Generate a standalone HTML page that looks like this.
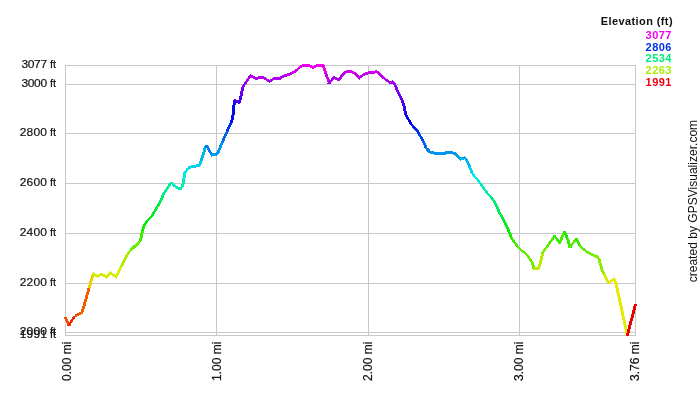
<!DOCTYPE html>
<html><head><meta charset="utf-8"><style>
html,body{margin:0;padding:0;background:#fff;}
svg{display:block;will-change:transform;}
text{font-family:"Liberation Sans",sans-serif;font-size:11px;fill:#111;}
.lab text{stroke:#111;stroke-width:0.2px;}
</style></head><body>
<svg width="700" height="400" viewBox="0 0 700 400">
<rect width="700" height="400" fill="#fff"/>
<g stroke="#c8c8c8" stroke-width="1" shape-rendering="crispEdges">
<line x1="64.5" y1="65.5" x2="635.5" y2="65.5"/>
<line x1="64.5" y1="84.5" x2="635.5" y2="84.5"/>
<line x1="64.5" y1="133.5" x2="635.5" y2="133.5"/>
<line x1="64.5" y1="183.5" x2="635.5" y2="183.5"/>
<line x1="64.5" y1="233.5" x2="635.5" y2="233.5"/>
<line x1="64.5" y1="283.5" x2="635.5" y2="283.5"/>
<line x1="64.5" y1="332.5" x2="635.5" y2="332.5"/>
<line x1="64.5" y1="335.5" x2="635.5" y2="335.5"/>
<line x1="65.5" y1="64.5" x2="65.5" y2="335.5"/>
<line x1="216.5" y1="64.5" x2="216.5" y2="335.5"/>
<line x1="368.5" y1="64.5" x2="368.5" y2="335.5"/>
<line x1="519.5" y1="64.5" x2="519.5" y2="335.5"/>
<line x1="635.5" y1="64.5" x2="635.5" y2="335.5"/>
</g>
<g class="lab">
<text transform="translate(0,68) scale(1,0.93)" x="21.6" y="0" style="font-size:12px" letter-spacing="-0.4">3077</text><text x="56.2" y="68" text-anchor="end">ft</text>
<text transform="translate(0,87) scale(1,0.93)" x="21.6" y="0" style="font-size:12px" letter-spacing="-0.4">3000</text><text x="56.2" y="87" text-anchor="end">ft</text>
<text transform="translate(0,136) scale(1,0.93)" x="19.7" y="0" style="font-size:12px" letter-spacing="0.2">2800</text><text x="56.2" y="136" text-anchor="end">ft</text>
<text transform="translate(0,186) scale(1,0.93)" x="19.7" y="0" style="font-size:12px" letter-spacing="0.2">2600</text><text x="56.2" y="186" text-anchor="end">ft</text>
<text transform="translate(0,236) scale(1,0.93)" x="19.7" y="0" style="font-size:12px" letter-spacing="0.2">2400</text><text x="56.2" y="236" text-anchor="end">ft</text>
<text transform="translate(0,286) scale(1,0.93)" x="19.7" y="0" style="font-size:12px" letter-spacing="0.2">2200</text><text x="56.2" y="286" text-anchor="end">ft</text>
<text transform="translate(0,335) scale(1,0.93)" x="19.7" y="0" style="font-size:12px" letter-spacing="0.2">2000</text><text x="56.2" y="335" text-anchor="end">ft</text>
<text transform="translate(0,338) scale(1,0.93)" x="19.7" y="0" style="font-size:12px" letter-spacing="0.2">1991</text><text x="56.2" y="338" text-anchor="end">ft</text>
<text transform="translate(70.5,341.6) rotate(-90)" text-anchor="end" style="font-size:12px">0.00 mi</text>
<text transform="translate(221.10000000000002,341.6) rotate(-90)" text-anchor="end" style="font-size:12px">1.00 mi</text>
<text transform="translate(372.3,341.6) rotate(-90)" text-anchor="end" style="font-size:12px">2.00 mi</text>
<text transform="translate(523.3,341.6) rotate(-90)" text-anchor="end" style="font-size:12px">3.00 mi</text>
<text transform="translate(639.3,341.6) rotate(-90)" text-anchor="end" style="font-size:12px">3.76 mi</text>
</g>
<text x="673" y="25" text-anchor="end" font-weight="bold" letter-spacing="0.4" style="fill:#111">Elevation (ft)</text>
<text x="672" y="39" text-anchor="end" style="fill:#ee00ee" font-weight="bold" letter-spacing="0.5">3077</text>
<text x="672" y="51" text-anchor="end" style="fill:#0033ee" font-weight="bold" letter-spacing="0.5">2806</text>
<text x="672" y="62" text-anchor="end" style="fill:#00ee77" font-weight="bold" letter-spacing="0.5">2534</text>
<text x="672" y="74" text-anchor="end" style="fill:#aaee00" font-weight="bold" letter-spacing="0.5">2263</text>
<text x="672" y="86" text-anchor="end" style="fill:#ee0011" font-weight="bold" letter-spacing="0.5">1991</text>
<text transform="translate(697,282.3) rotate(-90)" style="font-size:12px" letter-spacing="0.02">created by GPSVisualizer.com</text>
<g shape-rendering="crispEdges">
<polygon points="63.26,316.70 67.54,325.50 70.54,325.50 66.26,316.70" fill="#ed4e00"/>
<polygon points="66.96,325.50 73.84,315.50 76.84,315.50 69.96,325.50" fill="#ed2c00"/>
<polygon points="74.50,314.73 81.90,311.27 81.90,314.27 74.50,317.73" fill="#ed5300"/>
<polygon points="79.68,313.50 81.97,308.25 84.97,308.25 82.68,313.50" fill="#ed6100"/>
<polygon points="81.61,309.25 87.94,286.70 90.94,286.70 84.61,309.25" fill="#ed6100"/>
<polygon points="87.65,287.70 91.95,273.30 94.95,273.30 90.65,287.70" fill="#edd200"/>
<polygon points="92.80,271.98 97.80,275.22 97.80,278.22 92.80,274.98" fill="#ceed00"/>
<polygon points="96.80,275.16 101.80,272.54 101.80,275.54 96.80,278.16" fill="#d9ed00"/>
<polygon points="100.80,272.55 106.80,275.55 106.80,278.55 100.80,275.55" fill="#d0ed00"/>
<polygon points="105.80,275.25 110.80,270.75 110.80,274.75 105.80,279.25" fill="#dbed00"/>
<polygon points="109.80,271.39 116.60,275.61 116.60,278.61 109.80,274.39" fill="#cbed00"/>
<polygon points="114.34,277.30 120.66,265.10 123.66,265.10 117.34,277.30" fill="#dbed00"/>
<polygon points="120.18,266.10 123.32,259.00 126.32,259.00 123.18,266.10" fill="#aaed00"/>
<polygon points="122.80,260.00 127.00,253.00 130.00,253.00 125.80,260.00" fill="#aaed00"/>
<polygon points="126.31,254.00 129.49,249.90 132.49,249.90 129.31,254.00" fill="#aaed00"/>
<polygon points="130.10,248.90 134.00,245.00 134.00,249.00 130.10,252.90" fill="#67ed00"/>
<polygon points="133.00,245.98 140.30,239.02 140.30,243.02 133.00,249.98" fill="#67ed00"/>
<polygon points="138.10,242.00 139.70,238.00 142.70,238.00 141.10,242.00" fill="#40ed00"/>
<polygon points="139.41,239.00 141.09,230.10 144.09,230.10 142.41,239.00" fill="#40ed00"/>
<polygon points="140.84,231.10 143.06,224.00 146.06,224.00 143.84,231.10" fill="#10ed00"/>
<polygon points="142.47,225.00 151.23,214.80 154.23,214.80 145.47,225.00" fill="#00ed0b"/>
<polygon points="150.50,215.80 155.30,207.70 158.30,207.70 153.50,215.80" fill="#00ed33"/>
<polygon points="154.69,208.70 158.81,202.00 161.81,202.00 157.69,208.70" fill="#00ed33"/>
<polygon points="158.29,203.00 162.51,193.00 165.51,193.00 161.29,203.00" fill="#00ed6c"/>
<polygon points="161.98,194.00 166.62,186.80 169.62,186.80 164.98,194.00" fill="#00ed93"/>
<polygon points="165.94,187.80 170.26,181.80 173.26,181.80 168.94,187.80" fill="#00ed93"/>
<polygon points="169.50,181.80 173.90,187.30 176.90,187.30 172.50,181.80" fill="#00edc4"/>
<polygon points="174.50,185.10 179.00,186.90 179.00,189.90 174.50,188.10" fill="#00edb1"/>
<polygon points="178.00,186.70 181.50,186.70 181.50,189.70 178.00,189.70" fill="#00edaa"/>
<polygon points="179.14,188.70 181.46,185.50 184.46,185.50 182.14,188.70" fill="#00edaa"/>
<polygon points="181.01,186.50 182.29,179.20 185.29,179.20 184.01,186.50" fill="#00edb4"/>
<polygon points="182.10,180.20 183.90,171.50 186.90,171.50 185.10,180.20" fill="#00edd0"/>
<polygon points="183.44,172.50 186.96,167.60 189.96,167.60 186.44,172.50" fill="#00e9ed"/>
<polygon points="187.60,166.77 193.00,164.93 193.00,167.93 187.60,169.77" fill="#00d8ed"/>
<polygon points="192.00,165.18 200.10,163.92 200.10,166.92 192.00,168.18" fill="#00d1ed"/>
<polygon points="197.93,166.00 200.17,159.50 203.17,159.50 200.93,166.00" fill="#00cced"/>
<polygon points="199.85,160.50 204.25,145.75 207.25,145.75 202.85,160.50" fill="#00b4ed"/>
<polygon points="205.10,144.58 208.00,145.57 208.00,148.57 205.10,147.58" fill="#0078ed"/>
<polygon points="205.73,146.40 210.67,155.50 213.67,155.50 208.73,146.40" fill="#007bed"/>
<polygon points="211.40,153.57 216.75,152.83 216.75,155.83 211.40,156.57" fill="#009eed"/>
<polygon points="213.76,154.90 216.59,152.00 220.59,152.00 217.76,154.90" fill="#009bed"/>
<polygon points="216.39,153.00 221.21,141.40 224.21,141.40 219.39,153.00" fill="#0093ed"/>
<polygon points="220.78,142.40 226.22,130.10 229.22,130.10 223.78,142.40" fill="#0065ed"/>
<polygon points="225.78,131.10 229.97,121.50 232.97,121.50 228.78,131.10" fill="#0033ed"/>
<polygon points="229.57,122.50 231.38,117.50 234.38,117.50 232.57,122.50" fill="#000ded"/>
<polygon points="231.15,118.50 231.85,111.50 234.85,111.50 234.15,118.50" fill="#000ded"/>
<polygon points="231.75,112.50 232.55,104.50 235.55,104.50 234.75,112.50" fill="#000ded"/>
<polygon points="232.43,105.50 233.17,99.90 236.17,99.90 235.43,105.50" fill="#000ded"/>
<polygon points="234.10,98.72 237.40,99.93 237.40,102.93 234.10,101.72" fill="#5200ed"/>
<polygon points="236.40,99.48 239.90,101.37 239.90,104.37 236.40,102.48" fill="#4e00ed"/>
<polygon points="237.78,103.10 239.87,94.50 242.87,94.50 240.78,103.10" fill="#4800ed"/>
<polygon points="239.66,95.50 241.09,87.60 244.09,87.60 242.66,95.50" fill="#6900ed"/>
<polygon points="240.74,88.60 243.16,83.90 246.16,83.90 243.74,88.60" fill="#8800ed"/>
<polygon points="242.55,84.90 246.35,79.50 249.35,79.50 245.55,84.90" fill="#9800ed"/>
<polygon points="245.65,80.50 249.45,75.10 252.45,75.10 248.65,80.50" fill="#ab00ed"/>
<polygon points="250.10,73.84 253.60,75.66 253.60,78.66 250.10,76.84" fill="#bf00ed"/>
<polygon points="252.60,75.11 257.00,77.69 257.00,80.69 252.60,78.11" fill="#b900ed"/>
<polygon points="256.00,77.63 260.50,75.57 260.50,78.57 256.00,80.63" fill="#b000ed"/>
<polygon points="259.50,75.80 264.00,75.80 264.00,78.80 259.50,78.80" fill="#b700ed"/>
<polygon points="263.00,75.42 266.75,78.28 266.75,81.28 263.00,78.42" fill="#b700ed"/>
<polygon points="265.75,77.55 269.90,80.45 269.90,83.45 265.75,80.55" fill="#ae00ed"/>
<polygon points="268.90,80.45 273.00,77.55 273.00,80.55 268.90,83.45" fill="#a400ed"/>
<polygon points="272.00,78.12 276.00,76.38 276.00,79.38 272.00,81.12" fill="#ae00ed"/>
<polygon points="275.00,76.60 280.50,76.60 280.50,79.60 275.00,79.60" fill="#b400ed"/>
<polygon points="279.50,76.85 285.50,73.85 285.50,76.85 279.50,79.85" fill="#b400ed"/>
<polygon points="284.50,74.26 290.50,72.34 290.50,75.34 284.50,77.26" fill="#bf00ed"/>
<polygon points="289.50,72.77 295.50,69.53 295.50,72.53 289.50,75.77" fill="#c600ed"/>
<polygon points="294.50,70.20 299.00,66.60 299.00,69.60 294.50,73.20" fill="#d100ed"/>
<polygon points="298.00,67.38 302.00,64.32 302.00,67.32 298.00,70.38" fill="#de00ed"/>
<polygon points="301.00,64.87 305.00,63.53 305.00,66.53 301.00,67.87" fill="#e800ed"/>
<polygon points="304.00,63.70 309.00,63.70 309.00,66.70 304.00,66.70" fill="#ec00ed"/>
<polygon points="308.00,63.45 313.60,66.25 313.60,69.25 308.00,66.45" fill="#ec00ed"/>
<polygon points="312.60,66.26 318.00,63.44 318.00,66.44 312.60,69.26" fill="#e200ed"/>
<polygon points="317.00,63.70 323.60,63.70 323.60,66.70 317.00,66.70" fill="#ec00ed"/>
<polygon points="321.43,64.70 324.27,73.00 327.27,73.00 324.43,64.70" fill="#ec00ed"/>
<polygon points="323.92,72.00 327.98,83.50 330.98,83.50 326.92,72.00" fill="#cc00ed"/>
<polygon points="327.40,83.50 332.65,77.00 335.65,77.00 330.40,83.50" fill="#9e00ed"/>
<polygon points="333.25,75.75 336.75,77.50 336.75,80.50 333.25,78.75" fill="#b600ed"/>
<polygon points="335.75,77.15 339.90,78.00 339.90,81.00 335.75,80.15" fill="#b100ed"/>
<polygon points="337.50,79.90 341.40,75.00 344.40,75.00 340.50,79.90" fill="#ae00ed"/>
<polygon points="340.04,76.00 344.86,70.80 348.86,70.80 344.04,76.00" fill="#bf00ed"/>
<polygon points="345.90,69.80 352.10,69.80 352.10,72.80 345.90,72.80" fill="#d100ed"/>
<polygon points="351.10,69.40 355.50,72.90 355.50,75.90 351.10,72.40" fill="#d100ed"/>
<polygon points="354.50,71.55 359.70,76.25 359.70,80.25 354.50,75.55" fill="#c600ed"/>
<polygon points="358.70,76.64 366.10,71.66 366.10,74.66 358.70,79.64" fill="#b500ed"/>
<polygon points="365.10,72.11 369.30,71.19 369.30,74.19 365.10,75.11" fill="#c800ed"/>
<polygon points="368.30,71.30 374.10,71.30 374.10,74.30 368.30,74.30" fill="#cb00ed"/>
<polygon points="373.10,71.58 377.30,69.22 377.30,72.22 373.10,74.58" fill="#cb00ed"/>
<polygon points="374.35,70.50 380.05,76.80 384.05,76.80 378.35,70.50" fill="#d300ed"/>
<polygon points="381.10,74.41 386.10,78.29 386.10,81.29 381.10,77.41" fill="#bc00ed"/>
<polygon points="385.10,77.54 390.10,81.16 390.10,84.16 385.10,80.54" fill="#ae00ed"/>
<polygon points="389.10,80.77 393.00,81.03 393.00,84.03 389.10,83.77" fill="#a100ed"/>
<polygon points="392.00,80.00 395.50,83.50 395.50,87.50 392.00,84.00" fill="#a000ed"/>
<polygon points="393.28,84.50 395.62,89.90 398.62,89.90 396.28,84.50" fill="#9500ed"/>
<polygon points="395.15,88.90 398.15,94.90 401.15,94.90 398.15,88.90" fill="#8200ed"/>
<polygon points="397.65,93.90 400.65,99.90 403.65,99.90 400.65,93.90" fill="#6c00ed"/>
<polygon points="400.23,98.90 402.42,105.50 405.42,105.50 403.23,98.90" fill="#5600ed"/>
<polygon points="402.14,104.50 404.21,114.25 407.21,114.25 405.14,104.50" fill="#3d00ed"/>
<polygon points="403.85,113.25 406.85,119.25 409.85,119.25 406.85,113.25" fill="#1700ed"/>
<polygon points="406.30,118.25 411.00,126.00 414.00,126.00 409.30,118.25" fill="#0100ed"/>
<polygon points="411.70,123.04 416.10,127.06 416.10,131.06 411.70,127.04" fill="#001ded"/>
<polygon points="413.12,128.10 415.98,131.10 419.98,131.10 417.12,128.10" fill="#002aed"/>
<polygon points="415.75,130.10 418.15,134.90 421.15,134.90 418.75,130.10" fill="#0033ed"/>
<polygon points="417.63,133.90 421.87,141.75 424.87,141.75 420.63,133.90" fill="#0044ed"/>
<polygon points="421.37,140.75 424.98,148.60 427.98,148.60 424.37,140.75" fill="#0062ed"/>
<polygon points="423.80,147.60 428.45,152.75 432.45,152.75 427.80,147.60" fill="#0080ed"/>
<polygon points="429.50,150.66 435.50,151.69 435.50,154.69 429.50,153.66" fill="#0092ed"/>
<polygon points="434.50,151.56 440.50,152.04 440.50,155.04 434.50,154.56" fill="#0096ed"/>
<polygon points="439.50,152.04 445.50,151.56 445.50,154.56 439.50,155.04" fill="#0098ed"/>
<polygon points="444.50,151.74 448.60,150.61 448.60,153.61 444.50,154.74" fill="#0096ed"/>
<polygon points="447.60,150.71 451.75,151.04 451.75,154.04 447.60,153.71" fill="#0092ed"/>
<polygon points="450.75,150.87 455.50,152.13 455.50,155.13 450.75,153.87" fill="#0093ed"/>
<polygon points="452.55,153.00 455.95,156.75 459.95,156.75 456.55,153.00" fill="#0098ed"/>
<polygon points="455.01,155.75 459.09,159.90 463.09,159.90 459.01,155.75" fill="#00a4ed"/>
<polygon points="460.10,158.13 465.30,155.77 465.30,158.77 460.10,161.13" fill="#00b1ed"/>
<polygon points="462.93,157.00 465.37,160.30 468.37,160.30 465.93,157.00" fill="#00a9ed"/>
<polygon points="464.77,159.30 468.73,168.00 471.73,168.00 467.77,159.30" fill="#00b3ed"/>
<polygon points="468.30,167.00 471.20,174.25 474.20,174.25 471.30,167.00" fill="#00d5ed"/>
<polygon points="470.57,173.25 475.18,178.60 478.18,178.60 473.57,173.25" fill="#00edea"/>
<polygon points="474.38,177.60 478.88,183.60 481.88,183.60 477.38,177.60" fill="#00edd7"/>
<polygon points="478.14,182.60 483.86,190.50 486.86,190.50 481.14,182.60" fill="#00edc1"/>
<polygon points="483.10,189.50 488.90,196.75 491.90,196.75 486.10,189.50" fill="#00eda2"/>
<polygon points="489.50,193.75 494.25,198.50 494.25,202.50 489.50,197.75" fill="#00ed87"/>
<polygon points="492.03,199.50 494.97,206.10 497.97,206.10 495.03,199.50" fill="#00ed77"/>
<polygon points="494.52,205.10 498.13,213.00 501.13,213.00 497.52,205.10" fill="#00ed5e"/>
<polygon points="497.63,212.00 501.87,219.90 504.87,219.90 500.63,212.00" fill="#00ed40"/>
<polygon points="501.32,218.90 505.03,225.50 508.03,225.50 504.32,218.90" fill="#00ed21"/>
<polygon points="504.55,224.50 507.45,231.75 510.45,231.75 507.55,224.50" fill="#00ed09"/>
<polygon points="507.05,230.75 509.95,238.00 512.95,238.00 510.05,230.75" fill="#13ed00"/>
<polygon points="509.42,237.00 513.83,243.60 516.83,243.60 512.42,237.00" fill="#2eed00"/>
<polygon points="513.12,242.60 517.62,248.60 520.62,248.60 516.12,242.60" fill="#47ed00"/>
<polygon points="518.25,246.20 522.40,249.50 522.40,252.50 518.25,249.20" fill="#5ded00"/>
<polygon points="521.40,248.72 526.10,252.28 526.10,255.28 521.40,251.72" fill="#68ed00"/>
<polygon points="523.69,252.90 528.41,258.70 531.41,258.70 526.69,252.90" fill="#68ed00"/>
<polygon points="527.70,257.70 531.20,263.50 534.20,263.50 530.70,257.70" fill="#68ed00"/>
<polygon points="530.76,262.50 532.54,268.70 535.54,268.70 533.76,262.50" fill="#68ed00"/>
<polygon points="533.40,266.70 539.10,266.70 539.10,269.70 533.40,269.70" fill="#b5ed00"/>
<polygon points="536.92,268.70 538.58,264.00 541.58,264.00 539.92,268.70" fill="#b5ed00"/>
<polygon points="538.29,265.00 540.11,257.00 543.11,257.00 541.29,265.00" fill="#b5ed00"/>
<polygon points="539.87,258.00 541.43,252.00 544.43,252.00 542.87,258.00" fill="#b5ed00"/>
<polygon points="540.94,253.00 545.46,246.70 548.46,246.70 543.94,253.00" fill="#70ed00"/>
<polygon points="544.74,247.70 548.86,242.00 551.86,242.00 547.74,247.70" fill="#59ed00"/>
<polygon points="548.16,243.00 553.34,235.30 556.34,235.30 551.16,243.00" fill="#44ed00"/>
<polygon points="552.65,235.30 558.35,243.50 561.35,243.50 555.65,235.30" fill="#27ed00"/>
<polygon points="557.78,243.50 563.22,231.10 566.22,231.10 560.78,243.50" fill="#46ed00"/>
<polygon points="562.79,231.10 566.21,239.25 569.21,239.25 565.79,231.10" fill="#14ed00"/>
<polygon points="565.85,238.25 568.65,247.50 571.65,247.50 568.85,238.25" fill="#34ed00"/>
<polygon points="568.12,247.50 575.17,238.10 578.17,238.10 571.12,247.50" fill="#58ed00"/>
<polygon points="574.56,238.10 578.74,246.75 581.74,246.75 577.56,238.10" fill="#33ed00"/>
<polygon points="579.50,244.33 584.25,248.32 584.25,251.32 579.50,247.33" fill="#55ed00"/>
<polygon points="583.25,247.53 589.25,251.97 589.25,254.97 583.25,250.53" fill="#62ed00"/>
<polygon points="588.25,251.38 594.25,253.97 594.25,256.97 588.25,254.38" fill="#73ed00"/>
<polygon points="593.25,253.53 598.00,255.62 598.00,258.62 593.25,256.53" fill="#7ced00"/>
<polygon points="595.69,256.40 598.21,260.50 601.21,260.50 598.69,256.40" fill="#83ed00"/>
<polygon points="597.78,259.50 599.22,265.50 602.22,265.50 600.78,259.50" fill="#91ed00"/>
<polygon points="598.95,264.50 601.15,271.75 604.15,271.75 601.95,264.50" fill="#91ed00"/>
<polygon points="600.76,270.75 602.54,274.50 605.54,274.50 603.76,270.75" fill="#91ed00"/>
<polygon points="602.03,273.50 605.37,279.70 608.37,279.70 605.03,273.50" fill="#ceed00"/>
<polygon points="604.84,278.70 607.26,283.30 610.26,283.30 607.84,278.70" fill="#ceed00"/>
<polygon points="608.00,281.63 612.00,278.97 612.00,281.97 608.00,284.63" fill="#ede500"/>
<polygon points="611.00,279.62 614.80,277.18 614.80,280.18 611.00,282.62" fill="#ede500"/>
<polygon points="612.61,278.50 614.29,283.00 617.29,283.00 615.61,278.50" fill="#e4ed00"/>
<polygon points="613.97,282.00 615.53,288.00 618.53,288.00 616.97,282.00" fill="#e4ed00"/>
<polygon points="615.29,287.00 616.71,293.60 619.71,293.60 618.29,287.00" fill="#e4ed00"/>
<polygon points="616.49,292.60 625.91,335.70 628.91,335.70 619.49,292.60" fill="#e4ed00"/>
<polygon points="625.67,335.70 634.23,303.70 637.23,303.70 628.67,335.70" fill="#ed0000"/>
</g>
</svg>
</body></html>
